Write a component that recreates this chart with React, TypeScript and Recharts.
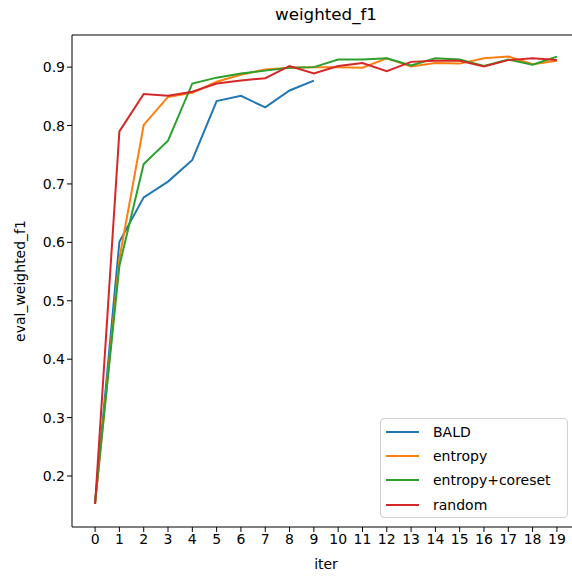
import { Legend, Line, LineChart, ReferenceLine, XAxis, YAxis } from "recharts"

// iteration index and the four strategies
const iters = [0, 1, 2, 3, 4, 5, 6, 7, 8, 9, 10, 11, 12, 13, 14, 15, 16, 17, 18, 19]
const bald = [0.155, 0.601, 0.677, 0.704, 0.741, 0.842, 0.851, 0.831, 0.86, 0.877]
const entropy = [
  0.153, 0.572, 0.801, 0.849, 0.856, 0.875, 0.887, 0.896, 0.899, 0.9,
  0.9, 0.899, 0.915, 0.901, 0.907, 0.906, 0.915, 0.918, 0.905, 0.911,
]
const coreset = [
  0.155, 0.56, 0.734, 0.774, 0.872, 0.882, 0.889, 0.894, 0.899, 0.9,
  0.913, 0.913, 0.915, 0.903, 0.915, 0.913, 0.902, 0.913, 0.904, 0.918,
]
const random = [
  0.152, 0.79, 0.854, 0.851, 0.858, 0.872, 0.877, 0.881, 0.902, 0.889,
  0.902, 0.907, 0.893, 0.909, 0.911, 0.911, 0.901, 0.912, 0.915, 0.912,
]
const yTicks = [0.2, 0.3, 0.4, 0.5, 0.6, 0.7, 0.8, 0.9]

const data = iters.map((iter, i) => ({
  iter,
  BALD: bald[i],
  entropy: entropy[i],
  "entropy+coreset": coreset[i],
  random: random[i],
}))

const series = [
  { key: "BALD", color: "#1f77b4" },
  { key: "entropy", color: "#ff7f0e" },
  { key: "entropy+coreset", color: "#2ca02c" },
  { key: "random", color: "#d62728" },
]

const font = "'DejaVu Sans', sans-serif"
const tickStyle = { fontSize: 14, fill: "#000", fontFamily: font }

function LegendBox() {
  return (
    <div
      style={{
        width: 188,
        height: 100,
        border: "1px solid #d0d0d0",
        borderRadius: 4,
        background: "rgba(255,255,255,0.8)",
        fontFamily: font,
        fontSize: 14,
        color: "#000",
        boxSizing: "border-box",
        paddingTop: 1,
      }}
    >
      {series.map((s) => (
        <div key={s.key} style={{ display: "flex", alignItems: "center", height: 24.2 }}>
          <div style={{ width: 33, height: 2, background: s.color, marginLeft: 5, marginRight: 14 }} />
          <span>{s.key}</span>
        </div>
      ))}
    </div>
  )
}

export default function App() {
  return (
    <div style={{ position: "absolute", left: 0, top: 0, width: 572, height: 576, background: "#fff" }}>
      <LineChart width={572} height={576} data={data} margin={{ top: 35, right: 0, bottom: 0, left: 0 }}>
        <XAxis
          dataKey="iter"
          type="number"
          domain={[-0.95, 19.62]}
          ticks={iters}
          interval={0}
          allowDataOverflow
          height={49}
          stroke="#000"
          tickSize={5}
          tick={tickStyle}
        />
        <YAxis
          type="number"
          domain={[0.1127, 0.955]}
          ticks={yTicks}
          allowDataOverflow
          width={72}
          stroke="#000"
          tickSize={5}
          tick={tickStyle}
          tickFormatter={(v) => v.toFixed(1)}
        />
        <ReferenceLine y={0.955} stroke="#000" strokeWidth={1} />
        {series.map((s) => (
          <Line
            key={s.key}
            type="linear"
            dataKey={s.key}
            stroke={s.color}
            strokeWidth={2}
            dot={false}
            activeDot={false}
            isAnimationActive={false}
            connectNulls={false}
          />
        ))}
        <Legend
          layout="vertical"
          align="center"
          verticalAlign="middle"
          wrapperStyle={{ position: "absolute", left: 380, top: 418, width: 190 }}
          content={() => <LegendBox />}
        />
      </LineChart>
      <div
        style={{
          position: "absolute",
          left: 72,
          width: 508,
          top: 4,
          textAlign: "center",
          fontFamily: font,
          fontSize: 16.7,
        }}
      >
        weighted_f1
      </div>
      <div
        style={{
          position: "absolute",
          left: 72,
          width: 508,
          top: 556,
          textAlign: "center",
          fontFamily: font,
          fontSize: 14,
        }}
      >
        iter
      </div>
      <div
        style={{
          position: "absolute",
          left: 20,
          top: 281,
          transform: "translate(-50%, -50%) rotate(-90deg)",
          whiteSpace: "nowrap",
          fontFamily: font,
          fontSize: 14,
        }}
      >
        eval_weighted_f1
      </div>
    </div>
  )
}
